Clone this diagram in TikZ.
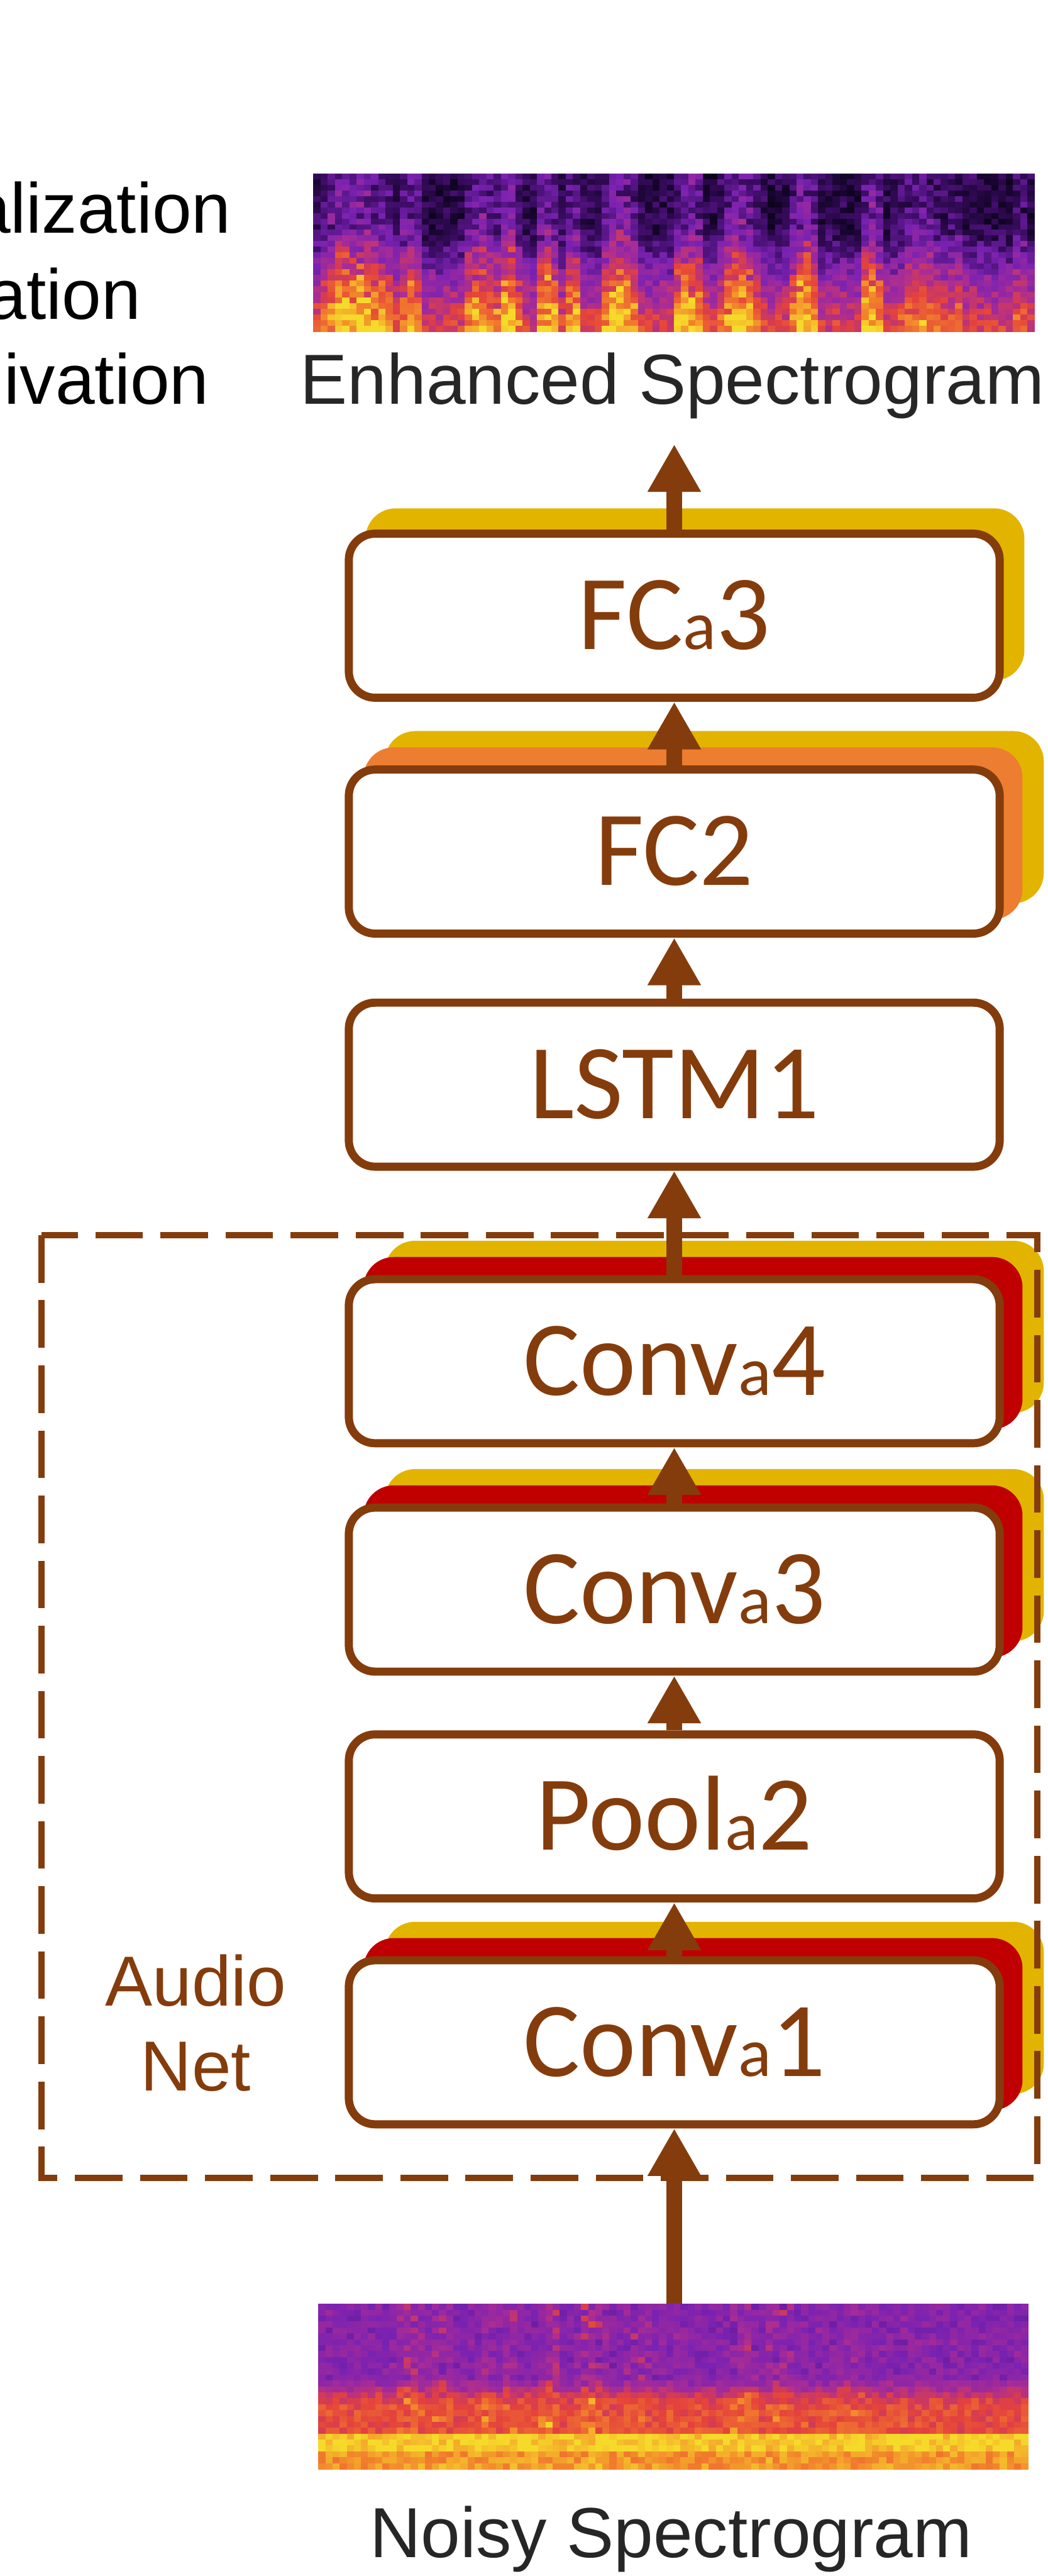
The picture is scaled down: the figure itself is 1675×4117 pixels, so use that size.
\documentclass[tikz,border=0pt]{standalone}
\usepackage{fontspec}
\setmainfont{Liberation Sans}
\newfontfamily\layerfamily{Carlito}
\usetikzlibrary{arrows.meta}

\definecolor{netbrown}{RGB}{132,60,12}
\definecolor{actyellow}{RGB}{226,180,0}
\definecolor{normred}{RGB}{192,0,0}
\definecolor{dropouto}{RGB}{237,125,49}
\definecolor{captiongray}{RGB}{38,38,38}
% spectrogram colour map, dark to bright
\definecolor{cm0}{RGB}{14,3,32}
\definecolor{cm1}{RGB}{60,12,100}
\definecolor{cm2}{RGB}{122,34,178}
\definecolor{cm3}{RGB}{168,44,150}
\definecolor{cm4}{RGB}{228,66,60}
\definecolor{cm5}{RGB}{242,128,44}
\definecolor{cm6}{RGB}{246,218,42}

\newcommand\layerfont{\layerfamily\fontsize{48.4pt}{58pt}\selectfont}
\newcommand\subA{{\fontsize{31.5pt}{31.5pt}\selectfont a}}
\newcommand\captionfont{\fontsize{32.2pt}{38.7pt}\selectfont}

% one spectrogram cell: value, x, y, width, height
\newcommand\specfill[5]{%
  \pgfmathsetmacro\clampv{max(0,min(0.9999,#1))}%
  \pgfmathtruncatemacro\seg{\clampv*6}%
  \pgfmathtruncatemacro\segn{\seg+1}%
  \pgfmathsetmacro\pct{100-(\clampv*6-\seg)*100}%
  \fill[fill={cm\seg!\pct!cm\segn}] ({#2},{#3}) rectangle ++(#4,#5);%
}

\tikzset{
  layer/.style={draw=netbrown, line width=0.13cm, fill=white,
    rounded corners=0.42cm, minimum width=10.4cm, minimum height=2.62cm,
    inner sep=0pt, text height=1.08cm, text depth=0pt,
    font=\layerfont, text=netbrown},
  layerback/.style={fill=#1, draw=#1, line width=0.13cm,
    rounded corners=0.42cm, minimum width=10.4cm, minimum height=2.62cm,
    inner sep=0pt},
  flow/.style={draw=netbrown, line width=0.26cm,
    -{Triangle[length=0.76cm,width=0.80cm]}},
  groupframe/.style={draw=netbrown, line width=0.1cm,
    dash pattern=on 0.76cm off 0.28cm},
  caption/.style={font=\captionfont, text=captiongray, inner sep=0pt},
  legendtext/.style={font=\captionfont, text=black, inner sep=0pt},
}

\begin{document}
\begin{tikzpicture}[x=0.01cm, y=-0.01cm,
  declare function={bump(\q,\ce,\wd)=max(0,1-((\q-\ce)/\wd)*((\q-\ce)/\wd));}]
\useasboundingbox (0,0) rectangle (1675,4117);
\pgfmathsetseed{11}

% legend entries, cut by the left border
\begin{scope}
  \clip (0,0) rectangle (1675,4117);
  \node[legendtext, anchor=base east] (lgnorm) at (370,372) {alization};
  \node[legendtext, anchor=base east] (lgdrop) at (226,510) {ation};
  \node[legendtext, anchor=base east] (lgact) at (335,646) {ivation};
\end{scope}

% enhanced spectrogram (output)
\node[inner sep=0pt, minimum width=11.53cm, minimum height=2.53cm, anchor=north west] (enh) at (501,277) {};
\foreach \i in {0,...,99}{
  \pgfmathsetmacro\cu{(\i+0.5)/100}
  \pgfmathsetmacro\act{bump(\cu,0.06,0.06)+0.7*bump(\cu,0.135,0.02)+0.8*bump(\cu,0.23,0.025)+0.9*bump(\cu,0.27,0.02)+0.85*bump(\cu,0.325,0.02)+0.7*bump(\cu,0.36,0.015)+bump(\cu,0.425,0.03)+0.9*bump(\cu,0.52,0.025)+0.9*bump(\cu,0.59,0.03)+0.95*bump(\cu,0.68,0.025)+0.9*bump(\cu,0.775,0.02)+0.5*bump(\cu,0.84,0.04)+0.35*bump(\cu,0.89,0.015)+0.3*bump(\cu,0.98,0.015)+0.15*rnd}
  \foreach \j in {0,...,27}{
    \pgfmathsetmacro\rr{(\j+0.5)/28}
    \pgfmathsetmacro\val{0.09+0.32*min(1,max(0,(\rr-0.35)/0.35))+0.2*min(1,max(0,(\rr-0.7)/0.25))+\act*(0.18+0.26*\rr)*(0.6+0.8*rnd)+0.22*(rnd-0.5)}
    \specfill{\val}{501+\i*11.53}{277+\j*9.036}{12.1}{9.6}
  }
}
\node[caption, anchor=base] (enhlbl) at (1075,646) {Enhanced Spectrogram};

% noisy spectrogram (input)
\node[inner sep=0pt, minimum width=11.35cm, minimum height=2.64cm, anchor=north west] (noisy) at (509,3682) {};
\foreach \i in {0,...,99}{
  \pgfmathsetmacro\cu{(\i+0.5)/100}
  \pgfmathsetmacro\act{0.8*bump(\cu,0.13,0.02)+0.7*bump(\cu,0.175,0.02)+0.6*bump(\cu,0.24,0.015)+0.8*bump(\cu,0.27,0.015)+0.8*bump(\cu,0.325,0.02)+bump(\cu,0.385,0.025)+0.5*bump(\cu,0.45,0.02)+0.6*bump(\cu,0.6,0.03)+0.7*bump(\cu,0.65,0.025)+0.3*bump(\cu,0.75,0.03)+0.25*rnd}
  \foreach \j in {0,...,27}{
    \pgfmathsetmacro\rr{(\j+0.5)/28}
    \pgfmathsetmacro\bs{\rr<0.45 ? 0.37 : (\rr<0.6 ? 0.37+(\rr-0.45)*2.0 : (\rr<0.80 ? 0.68 : (\rr<0.91 ? 0.97 : 0.87)))}
    \pgfmathsetmacro\val{\bs+\act*(\rr<0.8 ? 0.36 : 0.04)*rnd*rnd+0.14*(rnd-0.5)}
    \specfill{\val}{509+\i*11.35}{3682+\j*9.43}{11.9}{10}
  }
}
\node[caption, anchor=base] (noisylbl) at (1073,4087) {Noisy Spectrogram};

% layer copies behind the blocks
\node[layerback=actyellow] (fc3y) at (1111,950) {};
\node[layerback=actyellow] (fc2y) at (1142,1306) {};
\node[layerback=dropouto] (fc2o) at (1108,1332) {};
\foreach \cy/\nm in {2175.5/conv4, 2540.5/conv3, 3264/conv1}{
  \node[layerback=actyellow] (\nm y) at (1142,\cy-55) {};
  \node[layerback=normred] (\nm r) at (1108,\cy-29) {};
}

% audio sub-network frame
\draw[groupframe] (66,1974) rectangle (1658,3481);
\node[font=\captionfont, text=netbrown, align=center, inner sep=0pt] (audiolbl) at (313,3233) {Audio\\Net};

% blocks
\node[layer] (fc3) at (1078,984) {FC\subA 3};
\node[layer] (fc2) at (1078,1361) {FC2};
\node[layer] (lstm) at (1078,1733.5) {LSTM1};
\node[layer] (conv4) at (1078,2175.5) {Conv\subA 4};
\node[layer] (conv3) at (1078,2540.5) {Conv\subA 3};
\node[layer] (pool2) at (1078,2903) {Pool\subA 2};
\node[layer] (conv1) at (1078,3264) {Conv\subA 1};

% data flow
\coordinate (outtip) at (1078,710);
\draw[flow] (conv1.south |- noisy.north) -- (conv1.south);
\draw[flow] (conv1.north) -- (pool2.south);
\draw[flow] (pool2.north) -- (conv3.south);
\draw[flow] (conv3.north) -- (conv4.south);
\draw[flow] (conv4.north) -- (lstm.south);
\draw[flow] (lstm.north) -- (fc2.south);
\draw[flow] (fc2.north) -- (fc3.south);
\draw[flow] (fc3.north) -- (outtip);
\end{tikzpicture}
\end{document}
